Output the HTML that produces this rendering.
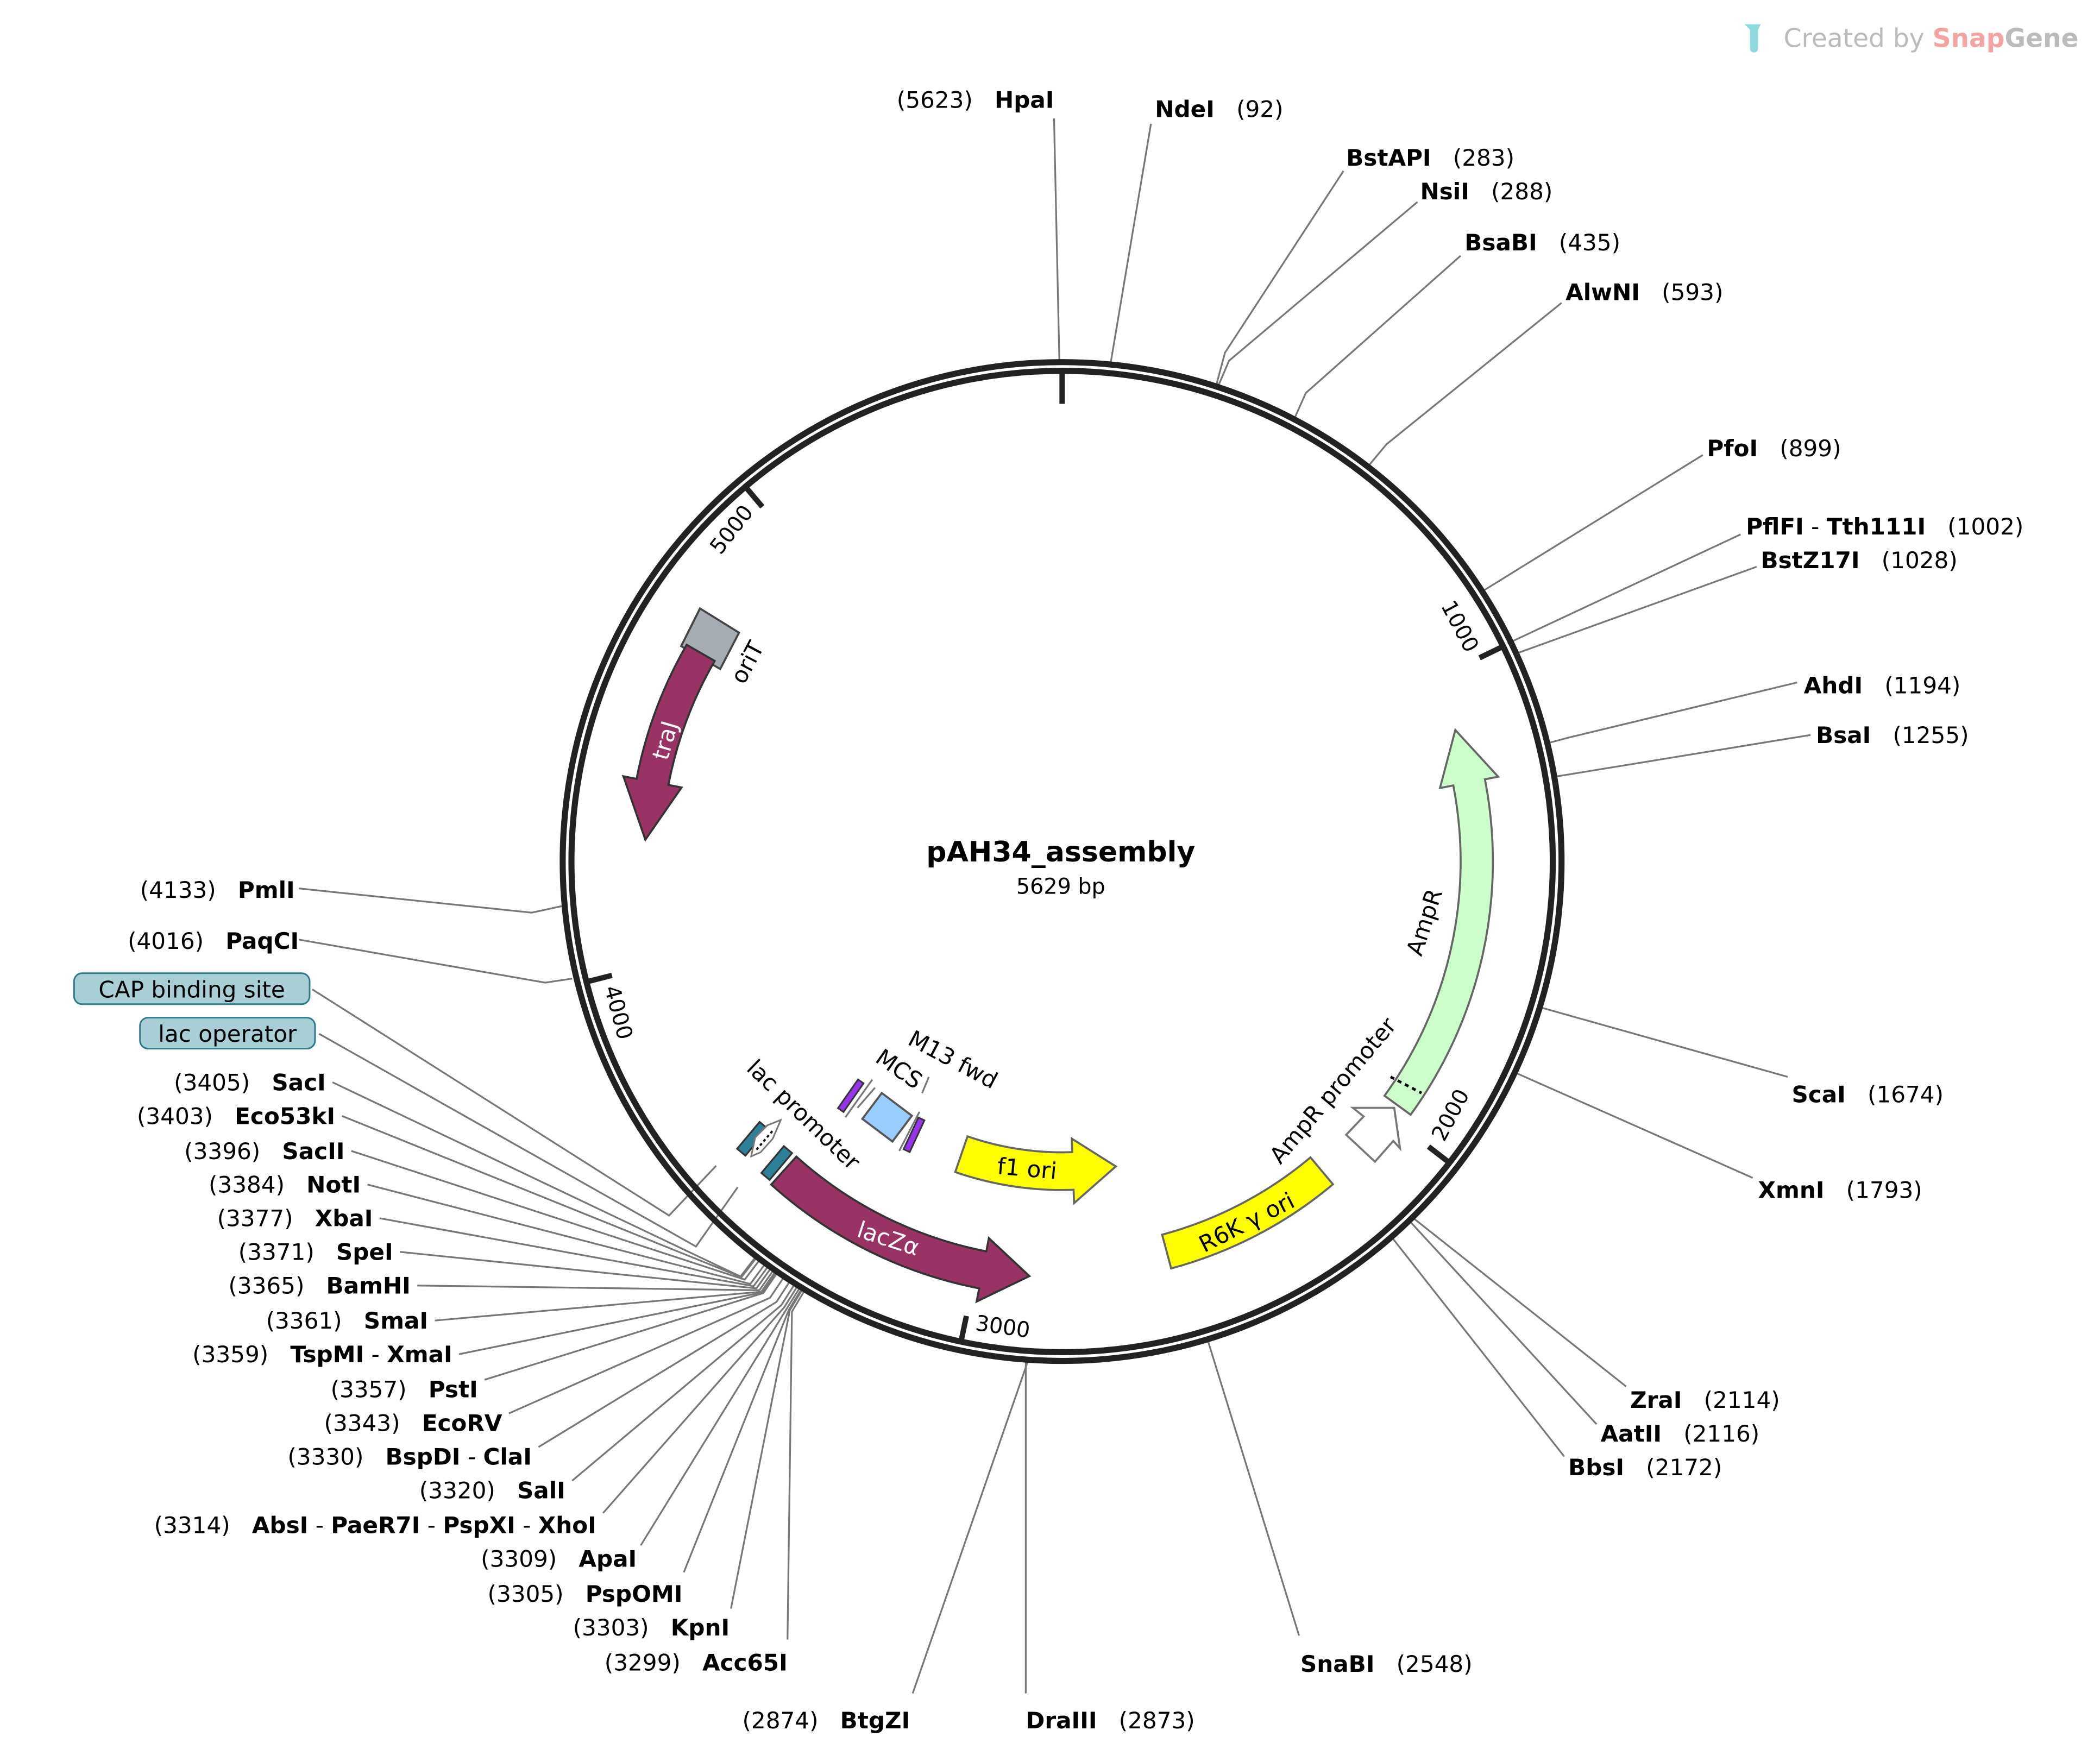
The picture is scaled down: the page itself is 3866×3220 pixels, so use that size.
<!DOCTYPE html>
<html><head><meta charset="utf-8"><style>
html,body{margin:0;padding:0;background:#fff;}
svg{display:block;}
text{font-family:"DejaVu Sans","Liberation Sans",sans-serif;white-space:pre;}
.l{font-size:17px;fill:#000;}
.b{font-weight:bold;}
.ln{stroke:#777;stroke-width:1.3;fill:none;}
.f{font-size:17px;}
</style></head><body>
<svg width="3866" height="3220" viewBox="0 0 1560 1299.3" preserveAspectRatio="none" xmlns="http://www.w3.org/2000/svg" xml:space="preserve">
<rect width="1560" height="1300" fill="#fff"/>
<path d="M1296,18 h12 l-2,4 v14 a3,3 0 0 1 -6,0 v-14 z" fill="#8fd8de"/>
<text x="1325" y="35" font-size="19" fill="#bbb">Created by <tspan fill="#f4a3a3" font-weight="bold">Snap</tspan><tspan fill="#bbb" font-weight="bold">Gene</tspan></text>

<g class="ln">
<polyline points="783,88 787,270"/>
<polyline points="855,92 825,270"/>
<polyline points="998,127 910,262 903,288"/>
<polyline points="1053,150 913,268 904,289"/>
<polyline points="1085,190 970,292 962,310"/>
<polyline points="1160,225 1030,330 1015,348"/>
<polyline points="1265,338 1100,440"/>
<polyline points="1293,397 1120,478"/>
<polyline points="1305,421 1125,486"/>
<polyline points="1335,507 1165,548 1150,552"/>
<polyline points="1345,546 1155,577"/>
<polyline points="1328,800 1143,748"/>
<polyline points="1302,875 1126,797"/>
<polyline points="1208,1030 1050,905"/>
<polyline points="1186,1058 1048,908"/>
<polyline points="1162,1082 1033,918"/>
<polyline points="965,1215 897,995"/>
<polyline points="762,1258 762,1010"/>
<polyline points="678,1258 764,1010"/>
<polyline points="222,660 395,678 418,673"/>
<polyline points="222,698 405,730 425,727"/>
<polyline points="232,735 497,903 532,866"/>
<polyline points="237,768 517,926 548,882"/>
<polyline points="247,804 550.1,948.3 561.1,934"/>
<polyline points="254,829 550.8,948.8 561.8,934.5"/>
<polyline points="261,855 553.2,950.6 564.1,936.3"/>
<polyline points="273,880 557.4,953.8 568.1,939.3"/>
<polyline points="282,905 559.8,955.5 570.4,941"/>
<polyline points="297,930 561.9,957.1 572.4,942.5"/>
<polyline points="310,955 564.1,958.5 574.5,943.8"/>
<polyline points="323,981 565.5,959.6 575.8,944.9"/>
<polyline points="341,1006 566.2,960.1 576.5,945.3"/>
<polyline points="360,1025 567,960.6 577.2,945.8"/>
<polyline points="378,1050 572,964.1 582.1,949.1"/>
<polyline points="400,1075 576.8,967.2 586.6,952.1"/>
<polyline points="425,1100 580.4,969.6 590.1,954.3"/>
<polyline points="448,1124 582.7,971 592.2,955.7"/>
<polyline points="476,1148 584.5,972.1 594,956.8"/>
<polyline points="508,1168 586,973 595.4,957.6"/>
<polyline points="543,1195 586.7,973.4 596,958"/>
<polyline points="585,1218 588.3,974.4 597.5,959"/>
</g>

<circle cx="789" cy="640" r="371" fill="none" stroke="#222" stroke-width="4.5"/>
<circle cx="789" cy="640" r="364.5" fill="none" stroke="#222" stroke-width="4.5"/>
<g stroke="#222" stroke-width="4">
<line x1="789" y1="276" x2="789" y2="300"/>
<line x1="1117" y1="480" x2="1099.1" y2="488.7"/>
<line x1="1077" y1="864" x2="1061.2" y2="851.8"/>
<line x1="713.8" y1="997.2" x2="717.9" y2="977.6"/>
<line x1="435.2" y1="729.5" x2="454.6" y2="724.6"/>
<line x1="553.4" y1="361.2" x2="566.3" y2="376.5"/>
</g>
<g font-size="16">
<text transform="translate(543,393) rotate(-52)" text-anchor="middle" dy="6">5000</text>
<text transform="translate(1085,465) rotate(62)" text-anchor="middle" dy="6">1000</text>
<text transform="translate(1077,828) rotate(-62)" text-anchor="middle" dy="6">2000</text>
<text transform="translate(745,985) rotate(8)" text-anchor="middle" dy="6">3000</text>
<text transform="translate(460,752) rotate(75)" text-anchor="middle" dy="6">4000</text>
</g>

<text x="788" y="640" text-anchor="middle" font-size="21" font-weight="bold">pAH34_assembly</text>
<text x="788" y="664" text-anchor="middle" font-size="16">5629 bp</text>

<polygon points="520,452 549,470 535,497 506,480" fill="#a6acb4" stroke="#444" stroke-width="1.5"/>
<text class="f" transform="translate(555,492) rotate(-62)" text-anchor="middle" dy="6">oriT</text>
<path d="M510.1,479 A322,322 0 0 0 472.9,578.6 L463.1,576.7 L479.4,623.8 L506.3,585 L496.5,583.1 A298,298 0 0 1 530.9,491 Z" fill="#993366" stroke="#333" stroke-width="1.5"/>
<text class="f" fill="#fff" transform="translate(494,550) rotate(-74)" text-anchor="middle" dy="6">traJ</text>

<path d="M1047.9,828.1 A320,320 0 0 0 1103.1,578.9 L1112.9,577 L1081.1,542.3 L1069.7,585.4 L1079.6,583.5 A296,296 0 0 1 1028.5,814 Z" fill="#ccffcc" stroke="#666" stroke-width="1.5"/>
<line x1="1033" y1="800" x2="1056" y2="812" stroke="#000" stroke-width="2" stroke-dasharray="3,3"/>
<text class="f" transform="translate(1058,685) rotate(-72)" text-anchor="middle" dy="6">AmpR</text>
<polygon points="1005,823 1013,829.4 1000,843 1021.4,863 1035,847.6 1040,853 1035.7,823" fill="#fff" stroke="#777" stroke-width="1.5"/>
<text class="f" transform="translate(990,810) rotate(-50)" text-anchor="middle" dy="6">AmpR promoter</text>

<path d="M572.9,880 A323,323 0 0 0 727.4,957.1 L725.5,966.9 L764.7,948 L734.6,919.8 L732.7,929.6 A295,295 0 0 1 591.6,859.2 Z" fill="#993366" stroke="#333" stroke-width="1.5"/>
<text class="f" fill="#fff" transform="translate(660,920) rotate(18)" text-anchor="middle" dy="6">lacZα</text>

<path d="M709.6,870.7 A244,244 0 0 0 797.5,883.9 L797.9,893.8 L828.9,866.5 L796.2,845.9 L796.5,855.9 A216,216 0 0 1 718.7,844.2 Z" fill="#ffff00" stroke="#666" stroke-width="1.5"/>
<text class="f" transform="translate(763,868) rotate(5)" text-anchor="middle" dy="6">f1 ori</text>

<path d="M870,942.3 A313,313 0 0 0 990.2,879.8 L973.5,859.8 A287,287 0 0 1 863.3,917.2 Z" fill="#ffff00" stroke="#666" stroke-width="1.5"/>
<text class="f" transform="translate(926,908) rotate(-27)" text-anchor="middle" dy="6">R6K γ ori</text>

<rect x="-4" y="-13" width="8" height="26" fill="#2e8099" stroke="#333" stroke-width="1.3" transform="translate(559,846) rotate(40)"/>
<rect x="-4" y="-13" width="8" height="26" fill="#2e8099" stroke="#333" stroke-width="1.3" transform="translate(577,864) rotate(40)"/>
<polygon points="561,845 570,836 580,832 574,846 565,856 558,859" fill="#fff" stroke="#777" stroke-width="1.2"/>
<line x1="562" y1="854" x2="574" y2="840" stroke="#000" stroke-width="1.5" stroke-dasharray="2,2"/>
<text class="f" transform="translate(597,828) rotate(44)" text-anchor="middle" dy="6">lac promoter</text>
<rect x="-14" y="-12" width="28" height="24" fill="#99ccff" stroke="#555" stroke-width="1.5" transform="translate(659,830) rotate(37)"/>
<rect x="-2.5" y="-13" width="5" height="26" fill="#9933ee" stroke="#333" stroke-width="1.2" transform="translate(632,814) rotate(35)"/>
<rect x="-2.5" y="-13" width="5" height="26" fill="#9933ee" stroke="#333" stroke-width="1.2" transform="translate(679,843) rotate(25)"/>
<g stroke="#777" stroke-width="1.3">
<line x1="628" y1="830" x2="648" y2="802"/>
<line x1="637" y1="823" x2="650" y2="808"/>
<line x1="668" y1="855" x2="683" y2="826"/>
<line x1="685" y1="812" x2="690" y2="800"/>
</g>
<text class="f" transform="translate(668,794) rotate(35)" text-anchor="middle" dy="6">MCS</text>
<text class="f" transform="translate(708,787) rotate(28)" text-anchor="middle" dy="6">M13 fwd</text>

<rect x="55" y="723" width="175" height="23" rx="6" fill="#a8cfd6" stroke="#2e7a8a" stroke-width="1.2"/>
<text x="142.5" y="741" text-anchor="middle" font-size="17">CAP binding site</text>
<rect x="104" y="756" width="130" height="23" rx="6" fill="#a8cfd6" stroke="#2e7a8a" stroke-width="1.2"/>
<text x="169" y="774" text-anchor="middle" font-size="17">lac operator</text>

<g class="l">
<text x="783" y="80" text-anchor="end">(5623)   <tspan class="b">HpaI</tspan></text>
<text x="858" y="87"><tspan class="b">NdeI</tspan>   (92)</text>
<text x="1000" y="123"><tspan class="b">BstAPI</tspan>   (283)</text>
<text x="1055" y="148"><tspan class="b">NsiI</tspan>   (288)</text>
<text x="1088" y="186"><tspan class="b">BsaBI</tspan>   (435)</text>
<text x="1163" y="223"><tspan class="b">AlwNI</tspan>   (593)</text>
<text x="1268" y="339"><tspan class="b">PfoI</tspan>   (899)</text>
<text x="1297" y="397"><tspan class="b">PflFI</tspan> - <tspan class="b">Tth111I</tspan>   (1002)</text>
<text x="1308" y="422"><tspan class="b">BstZ17I</tspan>   (1028)</text>
<text x="1340" y="515"><tspan class="b">AhdI</tspan>   (1194)</text>
<text x="1349" y="552"><tspan class="b">BsaI</tspan>   (1255)</text>
<text x="1331" y="819"><tspan class="b">ScaI</tspan>   (1674)</text>
<text x="1306" y="890"><tspan class="b">XmnI</tspan>   (1793)</text>
<text x="1211" y="1046"><tspan class="b">ZraI</tspan>   (2114)</text>
<text x="1189" y="1071"><tspan class="b">AatII</tspan>   (2116)</text>
<text x="1165" y="1096"><tspan class="b">BbsI</tspan>   (2172)</text>
<text x="966" y="1242"><tspan class="b">SnaBI</tspan>   (2548)</text>
<text x="762" y="1284"><tspan class="b">DraIII</tspan>   (2873)</text>
<text x="676" y="1284" text-anchor="end">(2874)   <tspan class="b">BtgZI</tspan></text>
<text x="219" y="667" text-anchor="end">(4133)   <tspan class="b">PmlI</tspan></text>
<text x="222" y="705" text-anchor="end">(4016)   <tspan class="b">PaqCI</tspan></text>
<text x="242" y="810" text-anchor="end">(3405)   <tspan class="b">SacI</tspan></text>
<text x="249" y="835" text-anchor="end">(3403)   <tspan class="b">Eco53kI</tspan></text>
<text x="256" y="861" text-anchor="end">(3396)   <tspan class="b">SacII</tspan></text>
<text x="268" y="886" text-anchor="end">(3384)   <tspan class="b">NotI</tspan></text>
<text x="277" y="911" text-anchor="end">(3377)   <tspan class="b">XbaI</tspan></text>
<text x="292" y="936" text-anchor="end">(3371)   <tspan class="b">SpeI</tspan></text>
<text x="305" y="961" text-anchor="end">(3365)   <tspan class="b">BamHI</tspan></text>
<text x="318" y="987" text-anchor="end">(3361)   <tspan class="b">SmaI</tspan></text>
<text x="336" y="1012" text-anchor="end">(3359)   <tspan class="b">TspMI</tspan> - <tspan class="b">XmaI</tspan></text>
<text x="355" y="1038" text-anchor="end">(3357)   <tspan class="b">PstI</tspan></text>
<text x="373" y="1063" text-anchor="end">(3343)   <tspan class="b">EcoRV</tspan></text>
<text x="395" y="1088" text-anchor="end">(3330)   <tspan class="b">BspDI</tspan> - <tspan class="b">ClaI</tspan></text>
<text x="420" y="1113" text-anchor="end">(3320)   <tspan class="b">SalI</tspan></text>
<text x="443" y="1139" text-anchor="end">(3314)   <tspan class="b">AbsI</tspan> - <tspan class="b">PaeR7I</tspan> - <tspan class="b">PspXI</tspan> - <tspan class="b">XhoI</tspan></text>
<text x="473" y="1164" text-anchor="end">(3309)   <tspan class="b">ApaI</tspan></text>
<text x="507" y="1190" text-anchor="end">(3305)   <tspan class="b">PspOMI</tspan></text>
<text x="542" y="1215" text-anchor="end">(3303)   <tspan class="b">KpnI</tspan></text>
<text x="585" y="1241" text-anchor="end">(3299)   <tspan class="b">Acc65I</tspan></text>
</g>
</svg>
</body></html>
